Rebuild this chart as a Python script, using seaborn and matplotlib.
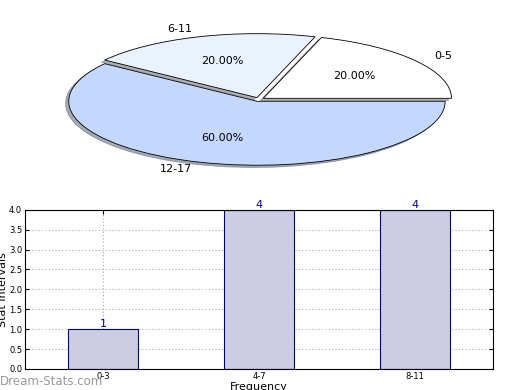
import pandas as pd
import numpy as np
import seaborn as sns
import matplotlib.pyplot as plt

# pie data
age_groups = ["0-5", "6-11", "12-17"]
age_share = [20, 20, 60]
pie_colors = ["#ffffff", "#eaf1ff", "#c4d8ff"]

# bar data
freq_bins = ["0-3", "4-7", "8-11"]
stat_counts = [1, 4, 4]

fig = plt.figure(figsize=(5.2, 3.9), dpi=100)

# top: stretched pie with shadow
ax1 = fig.add_axes([0.045, 0.54, 0.905, 0.41])
ax1.pie(age_share, labels=age_groups, colors=pie_colors, startangle=0,
        explode=[0.03, 0.03, 0.03],
        shadow={'ox': -0.012, 'oy': -0.025, 'shade': 0.6},
        autopct='%1.2f%%', labeldistance=1.12, pctdistance=0.6,
        wedgeprops={'edgecolor': 'black', 'linewidth': 0.6},
        textprops={'fontsize': 8})
ax1.set_aspect('auto')
ax1.set_xlim(-1.25, 1.25)
ax1.set_ylim(-1.25, 1.25)

# bottom: bar chart
ax2 = fig.add_axes([0.048, 0.054, 0.9, 0.408])
df = pd.DataFrame({"Frequency": freq_bins, "Stat Intervals": stat_counts})
sns.barplot(data=df, x="Frequency", y="Stat Intervals", ax=ax2, width=0.45,
            color="#ccccE5", saturation=1, edgecolor="navy", linewidth=0.8, zorder=2)
for i, v in enumerate(stat_counts):
    ax2.text(i, v, str(v), ha='center', va='bottom', color='navy', fontsize=8)
ax2.set_xlim(-0.5, 2.5)
ax2.set_ylim(0, 4)
ax2.set_yticks(np.arange(0, 4.01, 0.5))
ax2.grid(True, linestyle=(0, (1, 2)), color='#aaaaaa', linewidth=0.8, zorder=0)
ax2.set_axisbelow(True)
ax2.tick_params(labelsize=6, direction='in', right=True, top=True, length=3, pad=2)
ax2.set_xlabel("Frequency", fontsize=8, labelpad=1)
ax2.set_ylabel("Stat Intervals", fontsize=8, labelpad=1)
for s in ax2.spines.values():
    s.set_linewidth(0.8)

fig.text(0.0, 0.005, "Dream-Stats.com", fontsize=8.5, color="#999999", ha='left', va='bottom')

plt.savefig("out.png", dpi=100)
